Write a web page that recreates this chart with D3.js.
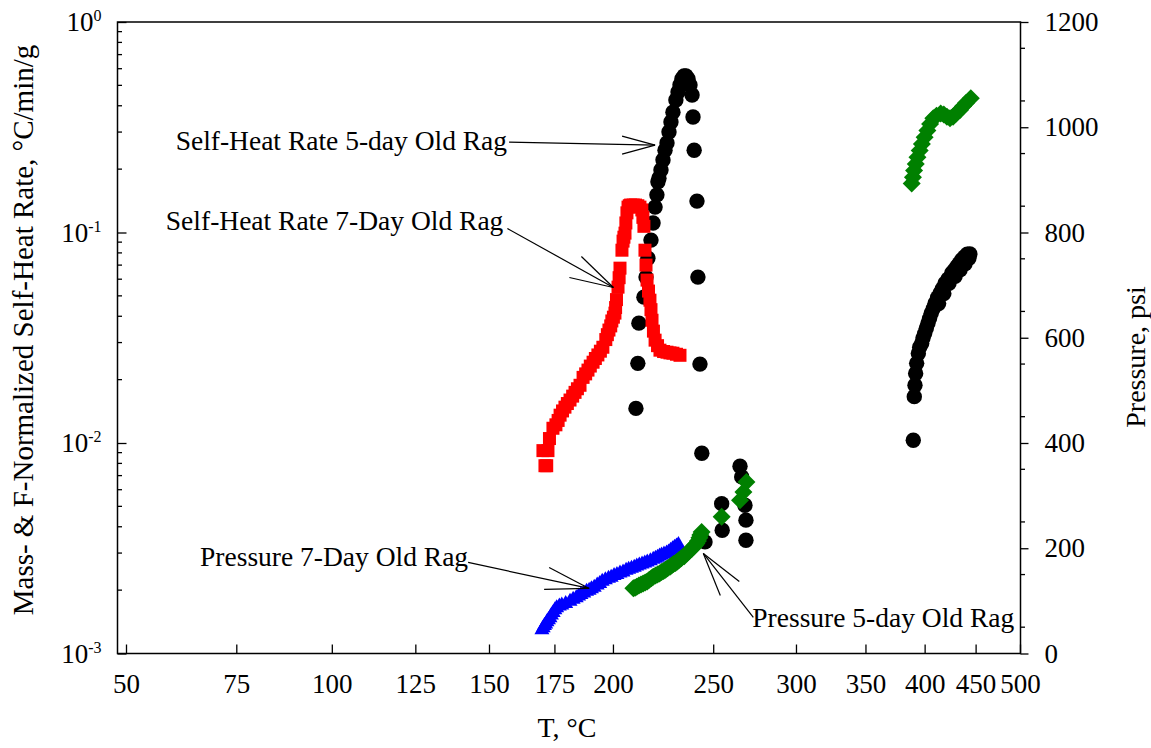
<!DOCTYPE html>
<html><head><meta charset="utf-8">
<script src="https://cdn.jsdelivr.net/npm/d3@7"></script>
<style>
body{margin:0;background:#fff}
svg{display:block}
</style>
</head><body>
<svg id="chart" width="1151" height="748" font-family="'Liberation Serif','Times New Roman',serif"></svg>
<script>
// ---------- data ----------
const tempTicks = [50, 75, 100, 125, 150, 175, 200, 250, 300, 350, 400, 450, 500];
const rateTicks = [0.001, 0.01, 0.1, 1];
const pressureTicks = [0, 200, 400, 600, 800, 1000, 1200];

// Self-heat rate, 5-day old rag: [T °C, rate °C/min/g]
const rate5day = [
  [210.6,0.0146],[211.5,0.0239],[212.0,0.0371],[214.4,0.0493],[215.4,0.0614],[216.3,0.0755],
  [217.8,0.092],[218.8,0.111],[219.8,0.132],[220.7,0.151],[221.2,0.174],[221.7,0.181],
  [222.7,0.198],[223.7,0.221],[224.7,0.246],[225.7,0.266],[226.7,0.300],[227.7,0.335],
  [228.7,0.373],[230.2,0.426],[231.3,0.465],[232.3,0.502],[233.3,0.536],[234.4,0.554],
  [235.4,0.554],[236.5,0.536],[237.5,0.502],[238.6,0.450],[239.1,0.354],[239.7,0.246],
  [241.2,0.141],[241.7,0.0614],[242.8,0.0237],[243.8,0.00894],[245.5,0.00339],
  [254.7,0.00515],[255.0,0.00385],[265.2,0.00776],[266.2,0.0069],[268.1,0.00506],
  [268.7,0.0043],[268.7,0.00345],
  [389.8,0.0103],[390.7,0.0166],[391.3,0.0188],[391.9,0.0214],[392.8,0.0239],[394.3,0.0266],
  [395.5,0.0285],[397.3,0.0297],[398.5,0.0315],[400.0,0.0331],[401.5,0.035],[403.0,0.0370],
  [404.5,0.039],[406.0,0.0412],[408.0,0.0435],[409.6,0.046],[412.0,0.049],[414.3,0.0513],
  [416.5,0.054],[419.1,0.0573],[422.0,0.060],[425.7,0.064],[428.0,0.066],[430.6,0.0687],
  [433.0,0.071],[435.6,0.074],[438.5,0.0765],[441.3,0.0789],
  [413.0,0.046],[418.0,0.0513],[423.0,0.0573],[429.0,0.062],[434.0,0.0665],[439.0,0.071],
  [443.0,0.0755],[444.0,0.079]
];

// Self-heat rate, 7-day old rag: [T °C, rate °C/min/g]
const rate7day = [
  [170.4,0.0092],[171.2,0.0078],[171.9,0.0078],[172.4,0.0092],[173.0,0.0105],[174.4,0.01175],
  [175.6,0.0122],[176.5,0.0128],[177.3,0.01356],[178.3,0.0142],[179.3,0.0148],[180.3,0.0154],
  [181.4,0.0160],[182.5,0.0167],[183.5,0.0174],[184.5,0.0181],[185.6,0.0188],[186.9,0.0205],
  [188.0,0.0213],[189.0,0.0222],[190.0,0.0232],[191.2,0.0242],[192.2,0.0252],[193.3,0.0262],
  [194.4,0.0273],[195.5,0.0285],[196.8,0.031],[197.5,0.0327],[198.2,0.0344],[199.0,0.036],
  [199.5,0.038],[200.2,0.0396],[200.9,0.0414],[201.2,0.044],[201.6,0.048],[202.3,0.055],
  [202.8,0.061],[203.2,0.0677],[204.1,0.0824],[204.6,0.091],[205.0,0.095],[205.5,0.0993],
  [205.9,0.111],[206.4,0.124],[206.9,0.132],[207.5,0.134],[208.1,0.135],[209.3,0.135],
  [210.4,0.135],[211.5,0.134],[212.5,0.132],[213.4,0.128],[213.9,0.118],[214.4,0.107],
  [214.9,0.0824],[215.4,0.070],[215.9,0.0594],[216.6,0.0527],[217.3,0.0477],[217.8,0.043],
  [218.3,0.0383],[219.0,0.034],[219.8,0.0308],[221.0,0.029],[222.2,0.0276],[224.0,0.0272],
  [225.7,0.0270],[227.2,0.0268],[228.7,0.0267],[230.5,0.0264],[232.3,0.0261]
];

// Pressure, 7-day old rag: [T °C, psi]
const pressure7day = [
  [170.0,47],[170.5,51],[171.0,55],[171.5,58],[172.0,62],[172.6,66],[173.2,70],[173.8,75],
  [174.5,80],[175.2,85],[175.9,89],[177.0,92],[178.0,94],[179.6,97],[181.4,101],[182.7,105],
  [184.0,108],[185.0,111],[186.0,114],[187.2,117],[188.4,120],[189.5,122],[190.5,125],
  [191.7,128],[193.0,132],[194.1,135],[195.2,139],[196.6,142],[198.0,145],[199.2,147],
  [200.5,150],[201.8,152],[203.2,155],[204.6,157],[206.0,160],[207.2,162],[208.5,164],
  [209.8,166],[211.0,168],[212.2,170],[213.5,172],[214.8,174],[216.0,176],[217.5,178],
  [218.9,181],[220.0,183],[221.0,185],[222.0,187],[223.0,189],[224.2,191],[225.5,193],
  [226.5,195],[227.5,198],[228.5,201],[229.5,204],[230.5,206],[231.5,209]
];

// Pressure, 5-day old rag: [T °C, psi]
const pressure5day = [
  [209.4,124],[210.2,125],[211.0,127],[212.0,129],[213.0,131],[214.0,133],[215.0,135],
  [216.0,137],[217.0,140],[218.0,143],[218.9,146],[220.0,148],[221.0,150],[222.0,152],
  [223.0,155],[224.0,157],[225.0,159],[226.0,162],[227.2,165],[228.0,167],[229.0,170],
  [230.0,172],[231.0,175],[232.0,178],[233.0,181],[234.5,185],[235.8,190],[236.6,193],
  [237.5,196],[238.5,199],[239.5,203],[240.2,206],[240.9,209],[241.7,214],[242.5,220],
  [243.0,225],[243.7,231],[254.7,260],[265.2,291],[267.2,307],[269.0,326],
  [388.4,893],[389.5,905],[390.5,918],[392.0,930],[393.5,943],[395.5,956],[397.5,968],
  [400.0,981],[402.5,994],[405.0,1006],[408.0,1017],[411.0,1022],[415.0,1026],[418.0,1024],
  [421.0,1020],[424.0,1017],[427.0,1020],[430.0,1026],[433.9,1033],[437.0,1040],[440.0,1046],
  [445.0,1055]
];

// annotation labels with the data point each arrow points at
const annotationTexts = ["Self-Heat Rate 5-day Old Rag","Self-Heat Rate 7-Day Old Rag","Pressure 7-Day Old Rag","Pressure 5-day Old Rag"];
const annotationTargets = [[219.8,0.260,"L"],[200.2,0.0548,"L"],[189.5,123.6,"R"],[244.6,190.1,"R"]];

// ---------- layout ----------
const FONT = "'Liberation Serif','Times New Roman',serif";
const svg = d3.select("#chart");
const L = 117.5, R = 1020.5, T = 22, B = 653.5;
const inv = t => -1 / (t + 273.15);           // Arrhenius-type temperature axis
const x = d3.scaleLinear().domain([inv(50), inv(500)]).range([126, 1020]);
const X = t => x(inv(t));
const yL = d3.scaleLog().domain([0.001, 1]).range([B, T]);
const yR = d3.scaleLinear().domain([0, 1200]).range([B, T]);

const tickFont = 27;

// bottom axis
const gx = svg.append("g").attr("transform", `translate(0,${B})`)
  .call(d3.axisBottom(x).tickValues(tempTicks.map(inv))
    .tickFormat(v => String(Math.round(-1 / v - 273.15)))
    .tickSizeInner(-9).tickSizeOuter(0).tickPadding(20));
gx.attr("font-family", FONT).attr("font-size", tickFont);
gx.select(".domain").remove();
gx.selectAll("line").attr("stroke-width", 1.3);

// left axis
const gl = svg.append("g").attr("transform", `translate(${L},0)`)
  .call(d3.axisLeft(yL).tickValues(rateTicks).tickSizeInner(-9).tickSizeOuter(0).tickPadding(16));
gl.attr("font-family", FONT).attr("font-size", tickFont);
gl.select(".domain").remove();
gl.selectAll("line").attr("stroke-width", 1.3);
gl.selectAll(".tick text")
  .each(function(d) {
    const e = Math.round(Math.log10(d));
    const t = d3.select(this).text("");
    t.append("tspan").text("10");
    t.append("tspan").attr("font-size", 16).attr("dy", -10).text(String(e));
  });
// left minor ticks
const minorL = [];
for (let p = -3; p < 0; p++) for (let m = 2; m <= 9; m++) minorL.push(m * Math.pow(10, p));
svg.append("g").selectAll("line").data(minorL).join("line")
  .attr("x1", L).attr("x2", L + 4.5).attr("y1", d => yL(d)).attr("y2", d => yL(d))
  .attr("stroke", "#000").attr("stroke-width", 1.3);

// right axis
const gr = svg.append("g").attr("transform", `translate(${R},0)`)
  .call(d3.axisRight(yR).tickValues(pressureTicks).tickFormat(d3.format("d"))
    .tickSizeInner(8).tickSizeOuter(0).tickPadding(16));
gr.attr("font-family", FONT).attr("font-size", tickFont);
gr.select(".domain").remove();
gr.selectAll("line").attr("stroke-width", 1.3);
const minorR = d3.range(50, 1200, 100);
svg.append("g").selectAll("line").data(minorR).join("line")
  .attr("x1", R).attr("x2", R + 4.5).attr("y1", d => yR(d)).attr("y2", d => yR(d))
  .attr("stroke", "#000").attr("stroke-width", 1.3);

// frame
svg.append("path")
  .attr("d", `M${L},${T}H${R}V${B}H${L}Z`)
  .attr("fill", "none").attr("stroke", "#000").attr("stroke-width", 1.5);

// axis titles
svg.append("text").attr("x", 567).attr("y", 737).attr("text-anchor", "middle")
  .attr("font-size", 28).text("T, °C");
svg.append("text").attr("transform", "translate(33,330) rotate(-90)").attr("text-anchor", "middle")
  .attr("font-size", 29).text("Mass- & F-Normalized Self-Heat Rate, °C/min/g");
svg.append("text").attr("transform", "translate(1145,357) rotate(-90)").attr("text-anchor", "middle")
  .attr("font-size", 28).text("Pressure, psi");

// ---------- marks ----------
const plot = svg.append("g");
plot.selectAll("circle.b").data(rate5day).join("circle").attr("class", "b")
  .attr("cx", d => X(d[0])).attr("cy", d => yL(d[1])).attr("r", 7.7).attr("fill", "#000");
plot.selectAll("rect.r").data(rate7day).join("rect").attr("class", "r")
  .attr("x", d => X(d[0]) - 6.5).attr("y", d => yL(d[1]) - 6.5)
  .attr("width", 13).attr("height", 13).attr("fill", "#ff0000");
plot.selectAll("path.t").data(pressure7day).join("path").attr("class", "t")
  .attr("d", "M0,-7.5L7.5,5.5L-7.5,5.5Z")
  .attr("transform", d => `translate(${X(d[0])},${yR(d[1])})`).attr("fill", "#0000ff");
plot.selectAll("path.g").data(pressure5day).join("path").attr("class", "g")
  .attr("d", "M0,-9L9,0L0,9L-9,0Z")
  .attr("transform", d => `translate(${X(d[0])},${yR(d[1])})`).attr("fill", "#008000");

// ---------- annotations ----------
// pixel offsets of text anchor, leader start and arrow-head barbs relative to the arrow tip
const annLayout = [
  {text:[-148,5], anchor:"end", from:[-146,-3], barbs:[[-33,-9],[-33,9]]},
  {text:[-110,-57], anchor:"end", from:[-106,-59], barbs:[[-32,-31],[-44,-10]]},
  {text:[-121,-22], anchor:"end", from:[-121,-26], barbs:[[-40,-21],[-45,1]]},
  {text:[49,74], anchor:"start", from:[50,64], barbs:[[36,28],[17,42]]}
];
annotationTexts.forEach((s, i) => {
  const [tx, tv, side] = annotationTargets[i];
  const px = X(tx), py = side === "L" ? yL(tv) : yR(tv);
  const a = annLayout[i];
  const g = svg.append("g").attr("stroke", "#000").attr("stroke-width", 1.2);
  g.append("line").attr("x1", px + a.from[0]).attr("y1", py + a.from[1]).attr("x2", px).attr("y2", py);
  a.barbs.forEach(b => g.append("line").attr("x1", px + b[0]).attr("y1", py + b[1]).attr("x2", px).attr("y2", py));
  svg.append("text").attr("x", px + a.text[0]).attr("y", py + a.text[1])
    .attr("text-anchor", a.anchor).attr("font-size", 27.5).text(s);
});
</script>
</body></html>
